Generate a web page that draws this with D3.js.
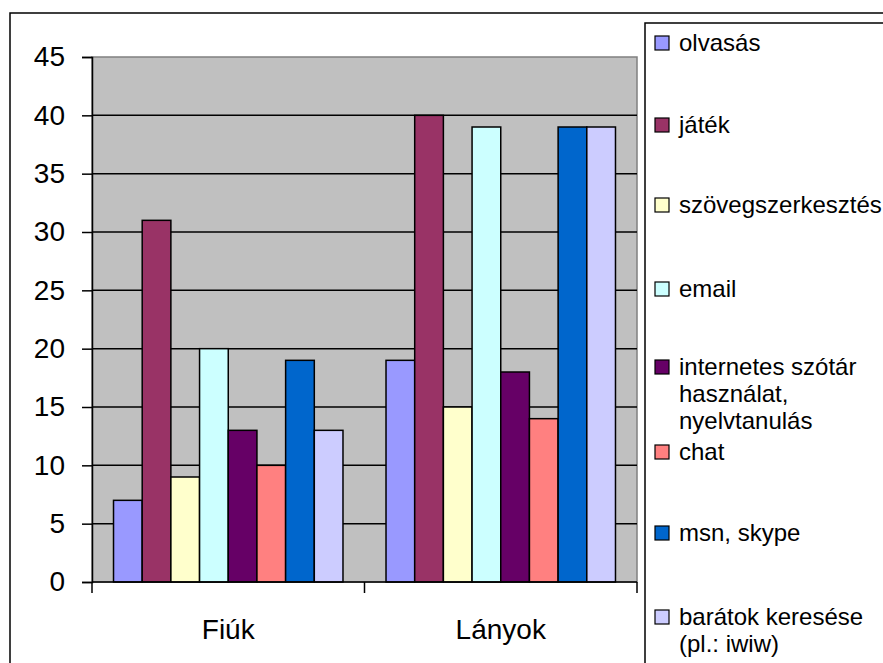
<!DOCTYPE html>
<html>
<head>
<meta charset="utf-8">
<script src="https://cdn.jsdelivr.net/npm/d3@7"></script>
<style>
  body { margin: 0; background: #fff; }
  svg { display: block; font-family: "Liberation Sans", Arial, sans-serif; }
</style>
</head>
<body>
<script>
// categories and series
var groups = ["Fiúk", "Lányok"];
var series = ["olvasás", "játék", "szövegszerkesztés", "email",
  "internetes szótár használat, nyelvtanulás", "chat", "msn, skype",
  "barátok keresése (pl.: iwiw)"];
var fiuk = [7, 31, 9, 20, 13, 10, 19, 13];
var lanyok = [19, 40, 15, 39, 18, 14, 39, 39];
var colors = ["#9999FF", "#993366", "#FFFFCC", "#CCFFFF", "#660066", "#FF8080", "#0066CC", "#CCCCFF"];
var yTicks = [0, 5, 10, 15, 20, 25, 30, 35, 40, 45];
// legend label lines
var legendLines = [["olvasás"], ["játék"], ["szövegszerkesztés"], ["email"],
  ["internetes szótár", "használat,", "nyelvtanulás"], ["chat"], ["msn, skype"],
  ["barátok keresése", "(pl.: iwiw)"]];

var W = 883, H = 663;
var svg = d3.select("body").append("svg")
  .attr("width", W)
  .attr("height", H);

// outer chart border
svg.append("rect")
  .attr("x", 10).attr("y", 13)
  .attr("width", 900).attr("height", 700)
  .attr("fill", "#fff")
  .attr("stroke", "#000")
  .attr("stroke-width", 1.5);

var plot = {left: 92, right: 637, top: 57, bottom: 582};

var x0 = d3.scaleBand()
  .domain(groups)
  .range([plot.left, plot.right])
  .padding(0);

var x1 = d3.scaleBand()
  .domain(series)
  .range([0, x0.bandwidth()])
  .paddingInner(0)
  .paddingOuter(0.75);

var y = d3.scaleLinear()
  .domain([0, 45])
  .range([plot.bottom, plot.top]);

// plot area
svg.append("rect")
  .attr("x", plot.left).attr("y", plot.top)
  .attr("width", plot.right - plot.left)
  .attr("height", plot.bottom - plot.top)
  .attr("fill", "#C0C0C0")
  .attr("stroke", "#808080")
  .attr("stroke-width", 1.5);

// gridlines
svg.append("g")
  .selectAll("line")
  .data(yTicks.filter(function(d){ return d > 0 && d < 45; }))
  .enter().append("line")
  .attr("x1", plot.left).attr("x2", plot.right)
  .attr("y1", function(d){ return y(d); })
  .attr("y2", function(d){ return y(d); })
  .attr("stroke", "#000")
  .attr("stroke-width", 1.5);

// bars
var data = groups.map(function(g, i){
  var vals = i == 0 ? fiuk : lanyok;
  return {group: g, values: vals.map(function(v, j){ return {key: series[j], value: v, color: colors[j]}; })};
});

var gGroups = svg.append("g")
  .selectAll("g")
  .data(data)
  .enter().append("g")
  .attr("transform", function(d){ return "translate(" + x0(d.group) + ",0)"; });

gGroups.selectAll("rect")
  .data(function(d){ return d.values; })
  .enter().append("rect")
  .attr("x", function(d){ return x1(d.key); })
  .attr("y", function(d){ return y(d.value); })
  .attr("width", x1.bandwidth())
  .attr("height", function(d){ return plot.bottom - y(d.value); })
  .attr("fill", function(d){ return d.color; })
  .attr("stroke", "#000")
  .attr("stroke-width", 1.5);

// y axis
var yAxis = svg.append("g")
  .attr("transform", "translate(" + plot.left + ",0)")
  .call(d3.axisLeft(y).tickValues(yTicks).tickSize(10).tickPadding(17));
yAxis.select(".domain").attr("stroke", "#000").attr("stroke-width", 1.5);
yAxis.selectAll(".tick line").attr("stroke", "#000").attr("stroke-width", 1.5);
yAxis.selectAll("text")
  .attr("font-size", 28)
  .attr("font-family", "Liberation Sans, Arial, sans-serif")
  .attr("fill", "#000");

// x axis
var xAxis = svg.append("g")
  .attr("transform", "translate(0," + plot.bottom + ")");
xAxis.append("line")
  .attr("x1", plot.left).attr("x2", plot.right)
  .attr("stroke", "#000").attr("stroke-width", 1.5);
xAxis.selectAll(".tk")
  .data([plot.left, plot.left + x0.step(), plot.right])
  .enter().append("line")
  .attr("class", "tk")
  .attr("x1", function(d){ return d; }).attr("x2", function(d){ return d; })
  .attr("y1", 0).attr("y2", 11)
  .attr("stroke", "#000").attr("stroke-width", 1.5);
xAxis.selectAll("text")
  .data(groups)
  .enter().append("text")
  .attr("x", function(d){ return x0(d) + x0.bandwidth() / 2; })
  .attr("y", 57)
  .attr("text-anchor", "middle")
  .attr("font-size", 28)
  .attr("fill", "#000")
  .text(function(d){ return d; });

// legend
var legendBox = svg.append("rect")
  .attr("x", 645).attr("y", 23)
  .attr("width", 300).attr("height", 700)
  .attr("fill", "#fff")
  .attr("stroke", "#000")
  .attr("stroke-width", 1.5);

var legendY = [43, 125, 205, 289, 367, 452, 533, 617];
var legend = svg.append("g")
  .selectAll("g")
  .data(series)
  .enter().append("g")
  .attr("transform", function(d, i){ return "translate(655," + legendY[i] + ")"; });

legend.append("rect")
  .attr("x", 0).attr("y", -7)
  .attr("width", 14).attr("height", 14)
  .attr("fill", function(d, i){ return colors[i]; })
  .attr("stroke", "#000")
  .attr("stroke-width", 1.2);

legend.append("text")
  .attr("x", 24)
  .attr("y", 0)
  .attr("font-size", 24)
  .attr("fill", "#000")
  .each(function(d, i){
    var t = d3.select(this);
    legendLines[i].forEach(function(line, k){
      t.append("tspan")
        .attr("x", 24)
        .attr("y", k * 27)
        .attr("dy", "0.35em")
        .text(line);
    });
  });
</script>
</body>
</html>
